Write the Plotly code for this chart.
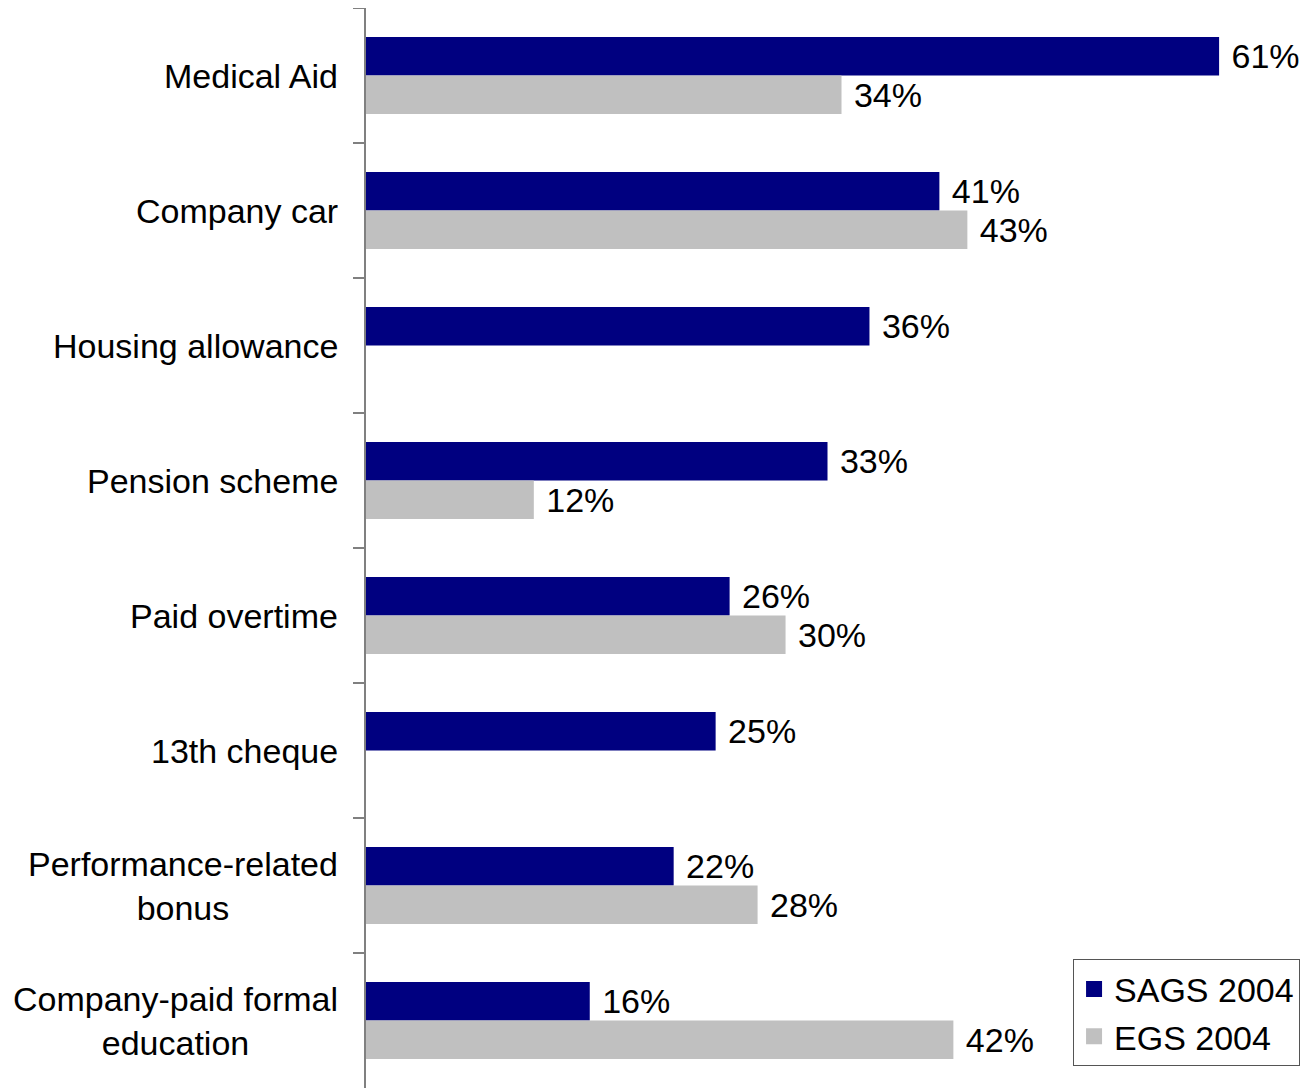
import plotly.graph_objects as go

# benefits, top to bottom
categories = ["Medical Aid", "Company car", "Housing allowance", "Pension scheme",
              "Paid overtime", "13th cheque", "Performance-related<br>bonus",
              "Company-paid formal<br>education"]
sags_2004 = [61, 41, 36, 33, 26, 25, 22, 16]
egs_2004 = [34, 43, None, 12, 30, None, 28, 42]
series_names = ["SAGS 2004", "EGS 2004"]
series_colors = ["#000080", "#C0C0C0"]

FONT = "Arial, Liberation Sans, sans-serif"

fig = go.Figure()

for name, vals, col in zip(series_names, [sags_2004, egs_2004], series_colors):
    fig.add_trace(go.Bar(
        y=categories, x=vals, orientation="h", name=name, showlegend=False,
        marker=dict(color=col, line=dict(width=0)),
        text=["\u00a0%d%%" % v if v is not None else "" for v in vals],
        textposition="outside", cliponaxis=False,
        textfont=dict(size=34, color="black", family=FONT),
    ))

# legend entries with bigger square swatches
for name, col in zip(series_names, series_colors):
    fig.add_trace(go.Scatter(
        x=[None], y=[None], mode="markers", name=name,
        marker=dict(symbol="square", size=24, color=col),
    ))

# category labels as annotations so two-line labels stay centred
for c in categories:
    fig.add_annotation(x=0, xref="paper", y=c, yref="y", text=c,
                       xanchor="right", yanchor="middle", align="center",
                       xshift=-26, showarrow=False,
                       font=dict(size=34, color="black", family=FONT))

# page body has an 8px margin, so the figure is 8px smaller than the window
fig.update_layout(
    width=1302, height=1080,
    margin=dict(l=358, r=0, t=0, b=0, autoexpand=False),
    paper_bgcolor="white", plot_bgcolor="white",
    barmode="group", bargap=0.43, bargroupgap=0,
    font=dict(family=FONT, size=34, color="black"),
    showlegend=True,
    legend=dict(x=0.749, y=0.119, xanchor="left", yanchor="top",
                bordercolor="#555555", borderwidth=1, bgcolor="white",
                font=dict(size=34, family=FONT), traceorder="normal",
                itemwidth=30, entrywidth=205),
)

fig.update_xaxes(visible=False, range=[0, 67.5])
fig.update_yaxes(autorange="reversed", showticklabels=False,
                 showline=True, linecolor="#808080", linewidth=2,
                 ticks="outside", tickson="boundaries", ticklen=11,
                 tickcolor="#808080", tickwidth=2, showgrid=False)

fig.write_html("out.html")
